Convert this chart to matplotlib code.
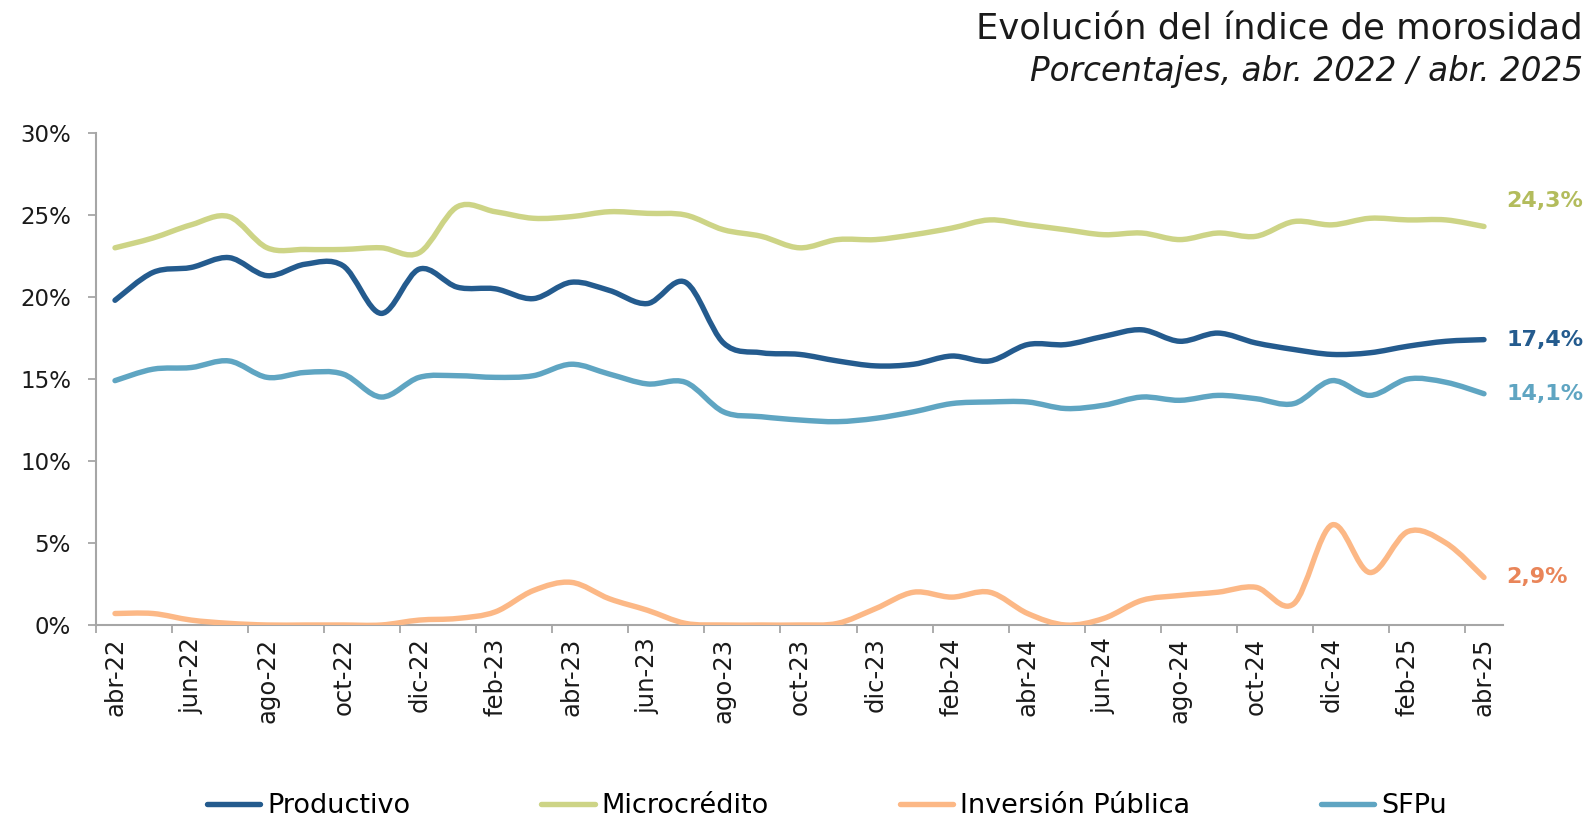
import numpy as np
import matplotlib
matplotlib.use("Agg")
import matplotlib.pyplot as plt
from matplotlib.path import Path
from matplotlib.patches import PathPatch
from matplotlib.lines import Line2D

plt.rcParams['font.family'] = ['DejaVu Sans']

# Monthly series, abr-22 .. abr-25 (percent)
months = ["abr-22", "may-22", "jun-22", "jul-22", "ago-22", "sep-22", "oct-22", "nov-22",
          "dic-22", "ene-23", "feb-23", "mar-23", "abr-23", "may-23", "jun-23", "jul-23",
          "ago-23", "sep-23", "oct-23", "nov-23", "dic-23", "ene-24", "feb-24", "mar-24",
          "abr-24", "may-24", "jun-24", "jul-24", "ago-24", "sep-24", "oct-24", "nov-24",
          "dic-24", "ene-25", "feb-25", "mar-25", "abr-25"]

productivo = [19.8, 21.5, 21.8, 22.4, 21.3, 22.0, 21.9, 19.0, 21.7, 20.6, 20.5, 19.9,
              20.9, 20.4, 19.6, 20.9, 17.2, 16.6, 16.5, 16.1, 15.8, 15.9, 16.4, 16.1,
              17.1, 17.1, 17.6, 18.0, 17.3, 17.8, 17.2, 16.8, 16.5, 16.6, 17.0, 17.3, 17.4]

microcredito = [23.0, 23.6, 24.4, 24.9, 23.0, 22.9, 22.9, 23.0, 22.7, 25.5, 25.2, 24.8,
                24.9, 25.2, 25.1, 25.0, 24.1, 23.7, 23.0, 23.5, 23.5, 23.8, 24.2, 24.7,
                24.4, 24.1, 23.8, 23.9, 23.5, 23.9, 23.7, 24.6, 24.4, 24.8, 24.7, 24.7, 24.3]

inversion_publica = [0.7, 0.7, 0.3, 0.1, 0.0, 0.0, 0.0, 0.0, 0.3, 0.4, 0.8, 2.1,
                     2.6, 1.6, 0.9, 0.1, 0.0, 0.0, 0.0, 0.1, 1.0, 2.0, 1.7, 2.0,
                     0.7, 0.0, 0.4, 1.5, 1.8, 2.0, 2.3, 1.3, 6.1, 3.2, 5.7, 5.0, 2.9]

sfpu = [14.9, 15.6, 15.7, 16.1, 15.1, 15.4, 15.3, 13.9, 15.1, 15.2, 15.1, 15.2,
        15.9, 15.3, 14.7, 14.8, 13.0, 12.7, 12.5, 12.4, 12.6, 13.0, 13.5, 13.6,
        13.6, 13.2, 13.4, 13.9, 13.7, 14.0, 13.8, 13.5, 14.9, 14.0, 15.0, 14.8, 14.1]

series_names = ["Productivo", "Microcrédito", "Inversión Pública", "SFPu"]
line_colors = ["#245B8E", "#CDD486", "#FCB886", "#5FA5C2"]
label_colors = ["#245B8E", "#B3BC5C", "#E98559", "#5FA5C2"]


def smooth_path(values):
    """Cubic Bezier path through every point (Catmull-Rom style tangents)."""
    y = np.asarray(values, dtype=float)
    x = np.arange(len(y), dtype=float)
    n = len(y)
    verts = [(x[0], y[0])]
    codes = [Path.MOVETO]
    for i in range(n - 1):
        a = max(i - 1, 0)
        d = min(i + 2, n - 1)
        c1 = (x[i] + (x[i + 1] - x[a]) / 6.0, y[i] + (y[i + 1] - y[a]) / 6.0)
        c2 = (x[i + 1] - (x[d] - x[i]) / 6.0, y[i + 1] - (y[d] - y[i]) / 6.0)
        verts += [c1, c2, (x[i + 1], y[i + 1])]
        codes += [Path.CURVE4, Path.CURVE4, Path.CURVE4]
    return Path(verts, codes)


W, H = 1590, 817
fig = plt.figure(figsize=(W / 100, H / 100), dpi=100)
ax = fig.add_axes([96 / W, 192 / H, (1503 - 96) / W, 492 / H])

all_series = [productivo, microcredito, inversion_publica, sfpu]
draw_order = [1, 3, 0, 2]
for k in draw_order:
    patch = PathPatch(smooth_path(all_series[k]), fill=False, edgecolor=line_colors[k],
                      lw=3.9, capstyle='round', joinstyle='round', zorder=3)
    ax.add_patch(patch)

ax.set_xlim(-0.5, 36.5)
ax.set_ylim(0, 30)

for s in ["top", "right"]:
    ax.spines[s].set_visible(False)
for s in ["left", "bottom"]:
    ax.spines[s].set_color("#A6A6A6")
    ax.spines[s].set_linewidth(1.5)

yt = np.arange(0, 31, 5)
ax.set_yticks(yt)
ax.set_yticklabels([f"{v}%" for v in yt])
ax.tick_params(axis='y', length=6, width=1.3, color="#A6A6A6", pad=12,
               labelsize=16.5, labelcolor="#1A1A1A")

idx = np.arange(0, len(months), 2)
ax.set_xticks(idx)
ax.set_xticklabels([months[i] for i in idx], rotation=90)
ax.set_xticks(np.arange(-0.5, len(months), 2), minor=True)
ax.tick_params(axis='x', which='major', length=0, pad=9, labelsize=17.5, labelcolor="#1A1A1A")
ax.tick_params(axis='x', which='minor', length=6, width=1.3, color="#A6A6A6")

# end-of-series value labels
last = len(months) - 1
offsets = [0, 18, 0, 0]
for k in range(4):
    v = all_series[k][last]
    ax.annotate(f"{v:.1f}%".replace(".", ","), xy=(last, v), xytext=(16, offsets[k]),
                textcoords="offset points", ha="left", va="center",
                fontsize=16, fontweight="bold", color=label_colors[k],
                annotation_clip=False)

fig.text(1583 / W, 1 - 30 / H, "Evolución del índice de morosidad", ha="right", va="center",
         fontsize=25.5, color="#1A1A1A")
fig.text(1583 / W, 1 - 71 / H, "Porcentajes, abr. 2022 / abr. 2025", ha="right", va="center",
         fontsize=23.5, style="italic", color="#1A1A1A")

handles = [Line2D([], [], color=line_colors[k], lw=3.9, solid_capstyle='round')
           for k in range(4)]
fig.legend(handles, series_names, loc="center", bbox_to_anchor=(827 / W, 11 / H), ncol=4,
           frameon=False, fontsize=19.5, handlelength=1.96, handletextpad=0.25,
           columnspacing=4.85, borderaxespad=0, borderpad=0)

fig.savefig("out.png", dpi=100)
